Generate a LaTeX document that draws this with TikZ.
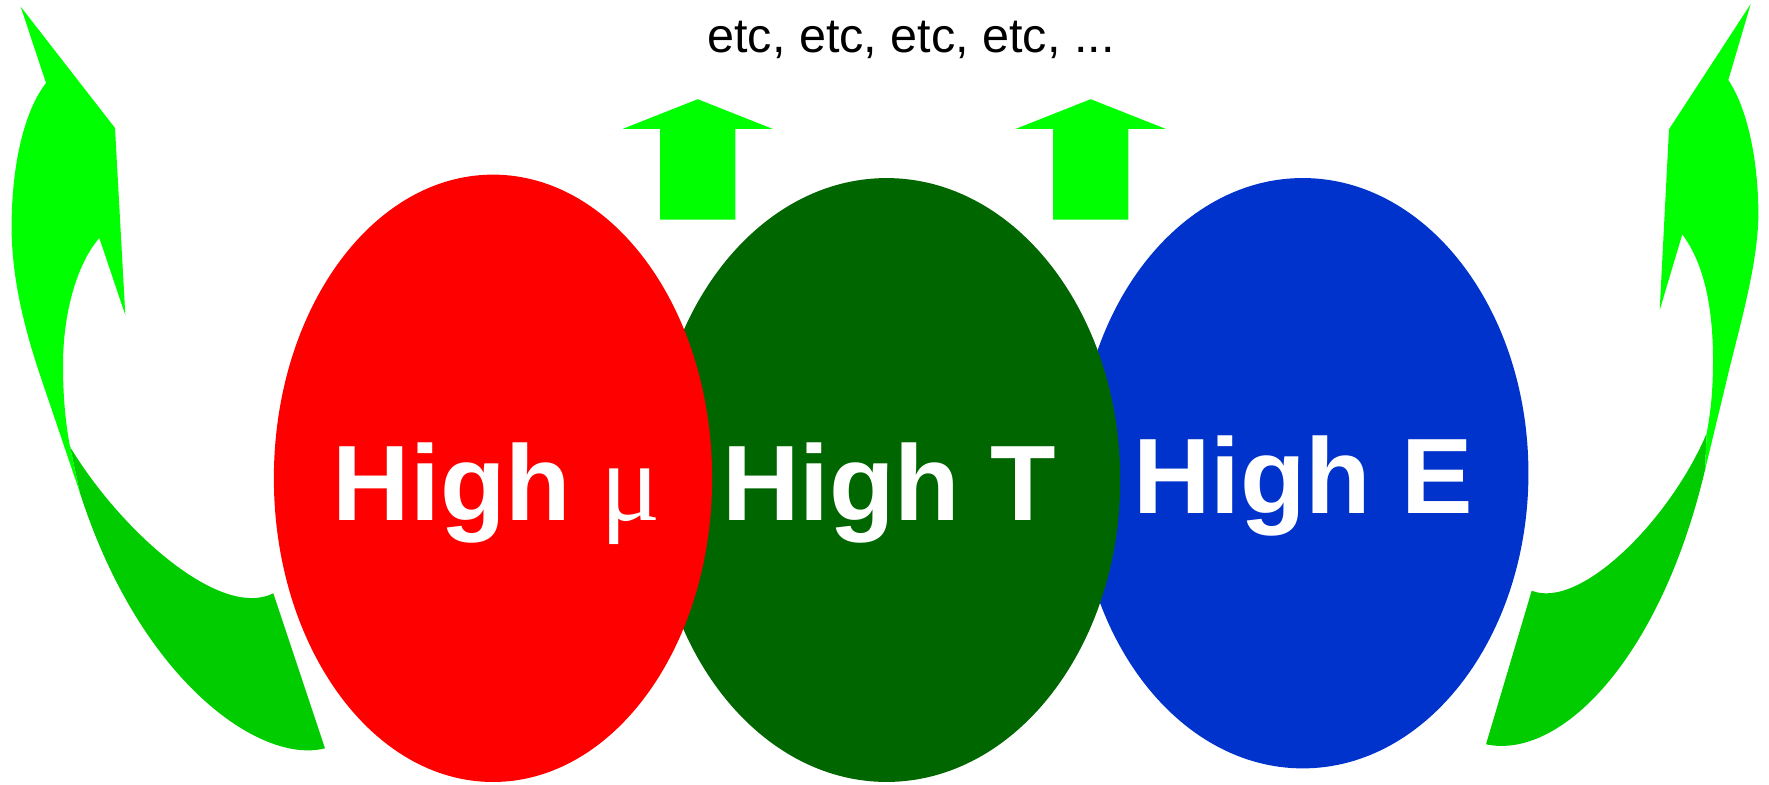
\documentclass[tikz,border=0pt]{standalone}
\usepackage{fontspec}
\setmainfont{Liberation Sans}
\newfontfamily\mufont{Liberation Serif}
\usetikzlibrary{shapes.geometric}
\definecolor{arrowgreen}{RGB}{0,255,0}
\definecolor{backgreen}{RGB}{0,204,0}
\definecolor{tgreen}{RGB}{0,102,0}
\definecolor{eblue}{RGB}{0,51,204}

\begin{document}
\begin{tikzpicture}[x=0.01cm, y=-0.01cm,
    blob/.style={ellipse, inner sep=0pt, draw=none},
    high/.style={text=white, anchor=base, font=\fontsize{30.5}{36}\selectfont\bfseries}]
            \useasboundingbox (0,0) rectangle (1769,784);

            % ellipses, back to front
            \node[blob, fill=eblue, minimum width=4.51cm, minimum height=5.90cm] (highE) at (1302.8,473.2) {};
            \node[blob, fill=tgreen, minimum width=4.67cm, minimum height=6.035cm] (highT) at (886.6,480) {};
            \node[blob, fill=red, minimum width=4.38cm, minimum height=6.07cm] (highmu) at (493,478.3) {};

            % labels
            \node[high] (labelmu) at (497,520) {High {\mufont\mdseries\fontsize{32}{36}\selectfont μ}};
            \node[high] (labelT) at (889,520) {High T};
            \node[high] (labelE) at (1303,513.3) {High E};

            \node[anchor=base, font=\fontsize{13.8}{16}\selectfont] (etc) at (911,52.7) {etc, etc, etc, etc, ...};

            % up arrows
            \foreach \x in {697.7,1090.7}
                \fill[arrowgreen] (\x-37.7,219.5) -- (\x-37.7,128.8) -- (\x-74.8,128.8) -- (\x,99.2)
                    -- (\x+74.8,128.8) -- (\x+37.7,128.8) -- (\x+37.7,219.5) -- cycle;

            % left curved arrow
            \fill[backgreen] (70,446.7) .. controls (120,530) and (220,620) .. (273.3,593.3) -- (325,748.3)
                .. controls (260,765) and (140,680) .. (80,493) -- cycle;
            \fill[arrowgreen] (20.7,6.7) -- (115,128) -- (125.3,315) -- (99.3,238)
                .. controls (76,265) and (63,315) .. (63,365) .. controls (63,400) and (66,425) .. (70,446.7)
                -- (80,493) -- (41.7,380) .. controls (25,331) and (10,275) .. (11.7,217)
                .. controls (13,160) and (25,110) .. (46,83) -- cycle;

            % right curved arrow
            \fill[backgreen] (1706.7,433.3) .. controls (1670,520) and (1580,610) .. (1531.7,590.7) -- (1486,744.3)
                .. controls (1560,760) and (1660,660) .. (1705,470) -- cycle;
            \fill[arrowgreen] (1750.7,4) -- (1669,129.3) -- (1659.7,310) -- (1682.3,234.3)
                .. controls (1705,265) and (1713,310) .. (1713,360) .. controls (1713,395) and (1710,415) .. (1706.7,433.3)
                -- (1705,470) -- (1726.7,380) .. controls (1738.3,330) and (1760,260) .. (1758.3,206.7)
                .. controls (1757,150) and (1745,105) .. (1728.3,80) -- cycle;
        \end{tikzpicture}
\end{document}
